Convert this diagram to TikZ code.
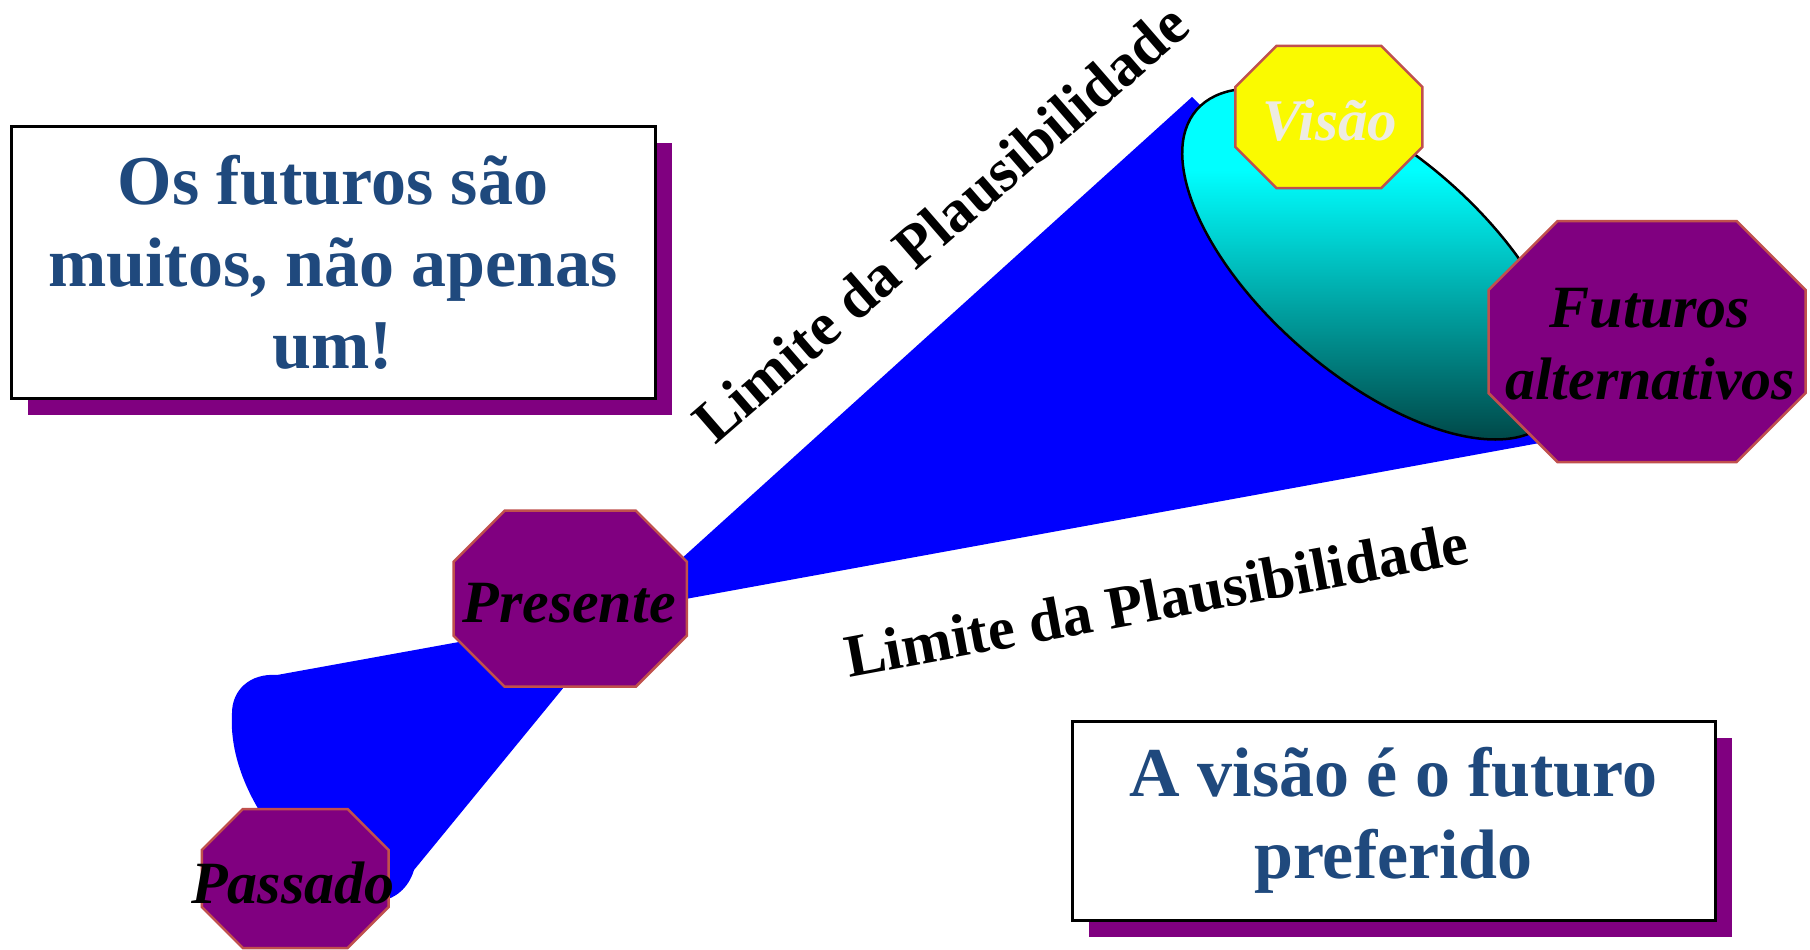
\documentclass[tikz,border=0pt]{standalone}
\usepackage{fontspec}
\setmainfont{Liberation Serif}
\usetikzlibrary{shadows}
\definecolor{conefill}{RGB}{0,0,255}
\definecolor{purp}{RGB}{128,0,128}
\definecolor{octborder}{RGB}{192,80,77}
\definecolor{txtblue}{RGB}{31,73,125}
\definecolor{visaotxt}{RGB}{238,236,225}
\definecolor{tealdark}{RGB}{0,72,72}
\definecolor{cyanlight}{RGB}{0,255,255}
\definecolor{vyellow}{RGB}{250,250,0}
\tikzset{
  pics/octo/.style n args={3}{code={
    \path[pic actions] (-#1+#3,-#2) -- (#1-#3,-#2) -- (#1,-#2+#3) -- (#1,#2-#3)
      -- (#1-#3,#2) -- (-#1+#3,#2) -- (-#1,#2-#3) -- (-#1,-#2+#3) -- cycle;
  }},
  octshape/.style={draw=octborder, line width=2.5pt, fill=#1},
  octlbl/.style={anchor=base, inner sep=0pt, font=\fontsize{60}{72}\selectfont\bfseries\itshape},
  limlbl/.style={anchor=base, inner sep=0pt, font=\fontsize{60.5}{72}\selectfont\bfseries},
  msgbox/.style={draw=black, line width=3pt, fill=white, text=txtblue, inner sep=0pt,
    font=\fontsize{70}{82}\selectfont\bfseries, align=center,
    general shadow={fill=purp, draw=none, shadow xshift=17pt, shadow yshift=-17pt}},
}
\begin{document}
\begin{tikzpicture}[x=1pt, y=-1pt]
\useasboundingbox (0,0) rectangle (1810,950);
\fill[white] (0,0) rectangle (1810,950);

% blue cones
\fill[conefill] (680,560) -- (1192,97) -- (1210,115) -- (1540,420) -- (1545,442) -- (680,600) -- cycle;
\fill[conefill] (470,640) -- (277,675) .. controls (250,673) and (232,690) .. (232,713)
  .. controls (230,745) and (240,780) .. (262,815) -- (330,900) -- (388,899)
  .. controls (404,893) and (411,880) .. (414,870) -- (564,687) -- (540,600) -- cycle;

% ellipse
\begin{scope}
  \clip[rotate around={-41:(1374,264)}] (1374,264) ellipse [x radius=235pt, y radius=111pt];
  \fill[cyanlight] (1120,60) rectangle (1630,171);
  \shade[top color=cyanlight, bottom color=tealdark] (1120,170) rectangle (1630,440);
\end{scope}
\draw[line width=2.5pt, rotate around={-41:(1374,264)}] (1374,264) ellipse [x radius=235pt, y radius=111pt];

% octagons
\pic[octshape=vyellow] at (1328.8,117) {octo={93.5}{71}{41}};
\pic[octshape=purp] at (1647,341.5) {octo={158.5}{120.5}{69}};
\pic[octshape=purp] at (570.2,598.7) {octo={116.6}{88}{51}};
\pic[octshape=purp] at (295.2,878.5) {octo={93.4}{69.5}{41}};

\node[octlbl, text=visaotxt, font=\fontsize{59}{70}\selectfont\bfseries\itshape] (visao) at (1330,140) {Visão};
\node[octlbl, anchor=center, align=center] (futuros) at (1650,344) {Futuros\\alternativos};
\node[octlbl] (presente) at (569,622) {Presente};
\node[octlbl] (passado) at (293,903) {Passado};

% boundary labels
\node[limlbl, rotate=41] (limup) at (954,238.5) {Limite da Plausibilidade};
\node[limlbl, rotate=10.5] (limdown) at (1160,620) {Limite da Plausibilidade};

% message boxes
\node[msgbox, minimum width=644pt, minimum height=272pt] (box1) at (333,262)
  {Os futuros são\\muitos, não apenas\\um!};
\node[msgbox, minimum width=643pt, minimum height=199pt] (box2) at (1393.5,820.5)
  {A visão é o futuro\\preferido};
\end{tikzpicture}
\end{document}
